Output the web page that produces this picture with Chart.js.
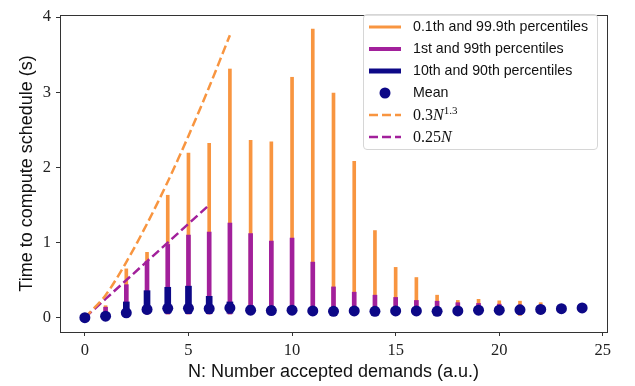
<!DOCTYPE html>
<html>
<head>
<meta charset="utf-8">
<script src="https://cdn.jsdelivr.net/npm/chart.js@4/dist/chart.umd.min.js"></script>
<style>
  body { margin: 0; background: #fff; }
  #wrap { position: relative; width: 635px; height: 386px; }
  #legend {
    position: absolute; left: 363px; top: 14px; width: 235px; height: 136px;
    box-sizing: border-box; border: 1px solid #d6d6d6; border-radius: 4px;
    background: rgba(255,255,255,0.85);
    font-family: "Liberation Sans", Arial, sans-serif; font-size: 14.2px; color: #111;
  }
  .row { position: absolute; left: 0; height: 22px; width: 100%; }
  .row svg { position: absolute; left: 5px; top: 0; }
  .row span.t { position: absolute; left: 49px; top: 2px; white-space: nowrap; line-height: 17px; }
  .m { font-family: "Liberation Serif", serif; font-size: 16px; }
  .m i { font-style: italic; }
  .m sup { font-size: 11px; vertical-align: 6px; line-height: 0; }
</style>
</head>
<body>
<div id="wrap">
  <canvas id="c" width="635" height="386"></canvas>
  <div id="legend"></div>
</div>
<script>
// ---- data ----
const nValues = [0,1,2,3,4,5,6,7,8,9,10,11,12,13,14,15,16,17,18,19,20,21,22,23,24];
const meanTime = [0.00,0.02,0.065,0.11,0.125,0.125,0.12,0.13,0.10,0.095,0.10,0.09,0.085,0.09,0.085,0.09,0.09,0.085,0.09,0.10,0.10,0.105,0.11,0.12,0.13];
const p999 = [0.00,0.16,0.65,0.87,1.63,2.19,2.32,3.31,2.36,2.34,3.20,3.84,2.99,2.08,1.16,0.67,0.535,0.30,0.23,0.245,0.225,0.22,0.20,0.14,0.13];
const p001 = [0.00,0.02,0.04,0.05,0.05,0.05,0.05,0.05,0.04,0.04,0.04,0.04,0.04,0.04,0.04,0.04,0.04,0.04,0.04,0.04,0.04,0.03,0.05,0.07,0.08];
const p99  = [0.00,0.14,0.44,0.75,0.975,1.10,1.14,1.26,1.12,1.02,1.06,0.74,0.41,0.34,0.30,0.27,0.23,0.22,0.20,0.19,0.18,0.17,0.16,0.15,0.15];
const p01  = [0.00,0.02,0.04,0.05,0.05,0.05,0.05,0.05,0.045,0.045,0.045,0.04,0.04,0.04,0.04,0.04,0.04,0.04,0.045,0.05,0.05,0.05,0.06,0.07,0.08];
const p90  = [0.00,0.04,0.21,0.36,0.405,0.42,0.285,0.21,0.16,0.15,0.15,0.14,0.13,0.13,0.13,0.13,0.13,0.13,0.13,0.14,0.14,0.14,0.15,0.15,0.16];
const p10  = [0.00,0.02,0.05,0.06,0.06,0.055,0.055,0.06,0.06,0.06,0.06,0.05,0.05,0.05,0.05,0.05,0.05,0.05,0.06,0.06,0.06,0.06,0.07,0.08,0.09];
const fitPowN = [0,1,2,3,4,5,6,7];
const fitPowY = [0.00,0.30,0.74,1.25,1.81,2.42,3.07,3.76];
const fitLinN = [0,1,2,3,4,5,6];
const fitLinY = [0.00,0.25,0.50,0.75,1.00,1.25,1.50];
const xTicks = [0,5,10,15,20,25];
const yTicks = [0,1,2,3,4];
const legendLabels = ["0.1th and 99.9th percentiles","1st and 99th percentiles","10th and 90th percentiles","Mean"];

const ORANGE = '#f89540', PURPLE = '#a2209b', NAVY = '#0d0887', AX = '#333333';

const range = (lo, hi) => nValues.map((n, i) => ({x: n, y: [lo[i], hi[i]]}));
const pts = (xs, ys) => xs.map((x, i) => ({x, y: ys[i]}));

const framePlugin = {
  id: 'frame',
  afterDraw(chart) {
    const {ctx, chartArea: a} = chart;
    ctx.save();
    ctx.strokeStyle = AX; ctx.lineWidth = 1;
    ctx.strokeRect(Math.round(a.left) + 0.5, Math.round(a.top) + 0.5,
                   Math.round(a.right - a.left), Math.round(a.bottom - a.top));
    ctx.restore();
  }
};

new Chart(document.getElementById('c'), {
  type: 'bar',
  data: {
    datasets: [
      {type: 'line', label: 'Mean', data: pts(nValues, meanTime), showLine: false,
       pointRadius: 5.5, pointBackgroundColor: NAVY, pointBorderWidth: 0, order: 0},
      {type: 'line', label: 'fitPow', data: pts(fitPowN, fitPowY), borderColor: ORANGE,
       borderWidth: 2.5, borderDash: [9, 4], pointRadius: 0, tension: 0.3, order: 1},
      {type: 'line', label: 'fitLin', data: pts(fitLinN, fitLinY), borderColor: PURPLE,
       borderWidth: 2.5, borderDash: [9, 4], pointRadius: 0, order: 1},
      {label: legendLabels[2], data: range(p10, p90), backgroundColor: NAVY,
       barThickness: 6, grouped: false, order: 2},
      {label: legendLabels[1], data: range(p01, p99), backgroundColor: PURPLE,
       barThickness: 4, grouped: false, order: 3},
      {label: legendLabels[0], data: range(p001, p999), backgroundColor: ORANGE,
       barThickness: 3, grouped: false, order: 4}
    ]
  },
  options: {
    responsive: false,
    animation: false,
    layout: {padding: {top: 6, right: 28, left: 0, bottom: 0}},
    plugins: {legend: {display: false}, tooltip: {enabled: false}},
    scales: {
      x: {
        type: 'linear', min: -1.2, max: 25.2, offset: false,
        afterBuildTicks: ax => { ax.ticks = xTicks.map(v => ({value: v})); },
        afterFit: ax => { ax.height = 54; },
        grid: {display: true, drawOnChartArea: false, drawTicks: true, tickLength: 4, tickColor: AX, offset: false},
        border: {display: false},
        ticks: {font: {family: '"Liberation Serif", serif', size: 16.5}, color: '#222', padding: 5, maxRotation: 0},
        title: {display: true, text: 'N: Number accepted demands (a.u.)',
                font: {family: '"Liberation Sans", Arial, sans-serif', size: 18}, color: '#111',
                padding: {top: 0, bottom: 3}}
      },
      y: {
        type: 'linear', min: -0.19, max: 4.03,
        afterBuildTicks: ax => { ax.ticks = yTicks.map(v => ({value: v})); },
        afterFit: ax => { ax.width = 60; },
        grid: {display: true, drawOnChartArea: false, drawTicks: true, tickLength: 4, tickColor: AX},
        border: {display: false},
        ticks: {font: {family: '"Liberation Serif", serif', size: 16.5}, color: '#222', padding: 5},
        title: {display: true, text: 'Time to compute schedule (s)',
                font: {family: '"Liberation Sans", Arial, sans-serif', size: 18}, color: '#111',
                padding: {top: 16, bottom: 0}}
      }
    }
  },
  plugins: [framePlugin]
});

// ---- legend (HTML) ----
const legendEntries = [
  {kind: 'line', color: ORANGE, w: 3, html: legendLabels[0]},
  {kind: 'line', color: PURPLE, w: 4, html: legendLabels[1]},
  {kind: 'line', color: NAVY, w: 5, html: legendLabels[2]},
  {kind: 'dot', color: NAVY, html: legendLabels[3]},
  {kind: 'dash', color: ORANGE, w: 2.5, html: '<span class="m">0.3<i>N</i><sup>1.3</sup></span>'},
  {kind: 'dash', color: PURPLE, w: 2.5, html: '<span class="m">0.25<i>N</i></span>'}
];
const lg = document.getElementById('legend');
legendEntries.forEach((e, i) => {
  const row = document.createElement('div');
  row.className = 'row';
  row.style.top = (1 + i * 21.9) + 'px';
  let g;
  if (e.kind === 'dot') g = `<circle cx="16" cy="11" r="5.5" fill="${e.color}"/>`;
  else if (e.kind === 'dash') g = `<line x1="0" y1="11" x2="32" y2="11" stroke="${e.color}" stroke-width="${e.w}" stroke-dasharray="9 4"/>`;
  else g = `<line x1="0" y1="11" x2="32" y2="11" stroke="${e.color}" stroke-width="${e.w}"/>`;
  row.innerHTML = `<svg width="34" height="22">${g}</svg><span class="t">${e.html}</span>`;
  lg.appendChild(row);
});
</script>
</body>
</html>
